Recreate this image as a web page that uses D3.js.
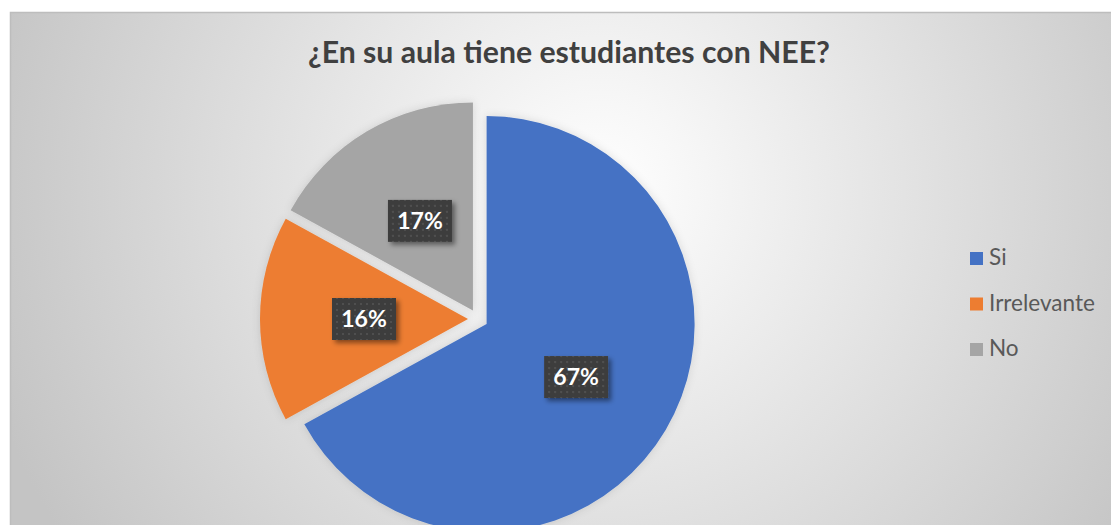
<!DOCTYPE html>
<html>
<head>
<meta charset="utf-8">
<script src="https://cdn.jsdelivr.net/npm/d3@7"></script>
<style>
  html, body { margin: 0; padding: 0; background: #fff; }
  svg { display: block; font-family: Lato, "Open Sans", sans-serif; }
</style>
</head>
<body>
<svg id="chart"></svg>
<script>
let categories = ['Si', 'Irrelevante', 'No']
let values = [67, 16, 17]
let colors = ['#4472C4', '#ED7D31', '#A5A5A5']
let title = '¿En su aula tiene estudiantes con NEE?'

let w = 1111
let h = 525
let cx = 478
let cy = 319
let r = 208
let explode = 10

let svg = d3.select('#chart').attr('width', w).attr('height', h)
let defs = svg.append('defs')

// background gradient like the excel chart area
let grad = defs.append('radialGradient')
  .attr('id', 'bg')
  .attr('gradientUnits', 'userSpaceOnUse')
  .attr('cx', 600).attr('cy', 190).attr('r', 640)
grad.append('stop').attr('offset', '0%').attr('stop-color', '#ffffff')
grad.append('stop').attr('offset', '100%').attr('stop-color', '#c4c4c4')

// dotted texture for the labels
let pat = defs.append('pattern')
  .attr('id', 'dots')
  .attr('width', 6).attr('height', 6)
  .attr('patternUnits', 'userSpaceOnUse')
pat.append('rect').attr('width', 6).attr('height', 6).attr('fill', '#3e3e3e')
pat.append('circle').attr('cx', 3).attr('cy', 3).attr('r', 1).attr('fill', '#565656')

let shadow = defs.append('filter').attr('id', 'shadow')
  .attr('x', '-30%').attr('y', '-30%').attr('width', '160%').attr('height', '160%')
shadow.append('feDropShadow')
  .attr('dx', 3).attr('dy', 3).attr('stdDeviation', 2.5)
  .attr('flood-color', '#000').attr('flood-opacity', 0.45)

let glow = defs.append('filter').attr('id', 'glow')
  .attr('x', '-20%').attr('y', '-20%').attr('width', '140%').attr('height', '140%')
glow.append('feDropShadow')
  .attr('dx', 0).attr('dy', 0).attr('stdDeviation', 4)
  .attr('flood-color', '#000').attr('flood-opacity', 0.12)

svg.append('rect')
  .attr('x', 10).attr('y', 12)
  .attr('width', w - 10).attr('height', h - 12)
  .attr('fill', 'url(#bg)')
svg.append('path')
  .attr('d', `M10.5,${h} V12.5 H${w}`)
  .attr('fill', 'none')
  .attr('stroke', '#bdbdbd')
  .attr('stroke-width', 1.5)

// title
let titleText = svg.append('text')
  .attr('x', 569).attr('y', 63)
  .attr('text-anchor', 'middle')
  .attr('font-weight', 'bold')
  .attr('font-size', 26)
  .attr('fill', '#404040')
  .text(title)
let tw = titleText.node().getComputedTextLength()
titleText.attr('font-size', 26 * 522 / tw)

// pie
let pie = d3.pie().sort(null).value(d => d)
let arcs = pie(values)
let arc = d3.arc().innerRadius(0).outerRadius(r)

let g = svg.append('g')
  .attr('transform', `translate(${cx},${cy})`)

let slices = g.selectAll('g.slice')
  .data(arcs)
  .enter()
  .append('g')
  .attr('class', 'slice')
  .attr('transform', d => {
    let a = (d.startAngle + d.endAngle) / 2
    return `translate(${explode * Math.sin(a)},${-explode * Math.cos(a)})`
  })

slices.append('path')
  .attr('d', arc)
  .attr('fill', (d, i) => colors[i])
  .attr('filter', 'url(#glow)')

let lblArc = d3.arc().innerRadius(r * 0.5).outerRadius(r * 0.5)

let labels = slices.append('g')
  .attr('transform', d => `translate(${lblArc.centroid(d)})`)

labels.append('rect')
  .attr('x', -32).attr('y', -21)
  .attr('width', 64).attr('height', 42)
  .attr('fill', 'url(#dots)')
  .attr('filter', 'url(#shadow)')

labels.append('text')
  .attr('text-anchor', 'middle')
  .attr('dy', 8)
  .attr('font-size', 23)
  .attr('font-weight', 'bold')
  .attr('fill', '#ffffff')
  .text(d => d.value + '%')

// legend
let legend = svg.append('g')
  .attr('transform', 'translate(970,252)')

let items = legend.selectAll('g')
  .data(categories)
  .enter()
  .append('g')
  .attr('transform', (d, i) => `translate(0,${i * 45.5})`)

items.append('rect')
  .attr('width', 13).attr('height', 13)
  .attr('fill', (d, i) => colors[i])

let legendText = items.append('text')
  .attr('x', 19).attr('y', 13)
  .attr('font-size', 20)
  .attr('fill', '#595959')
  .text(d => d)
let lw = legendText.nodes()[1].getComputedTextLength()
legendText.attr('font-size', 20 * 106 / lw)
</script>
</body>
</html>
